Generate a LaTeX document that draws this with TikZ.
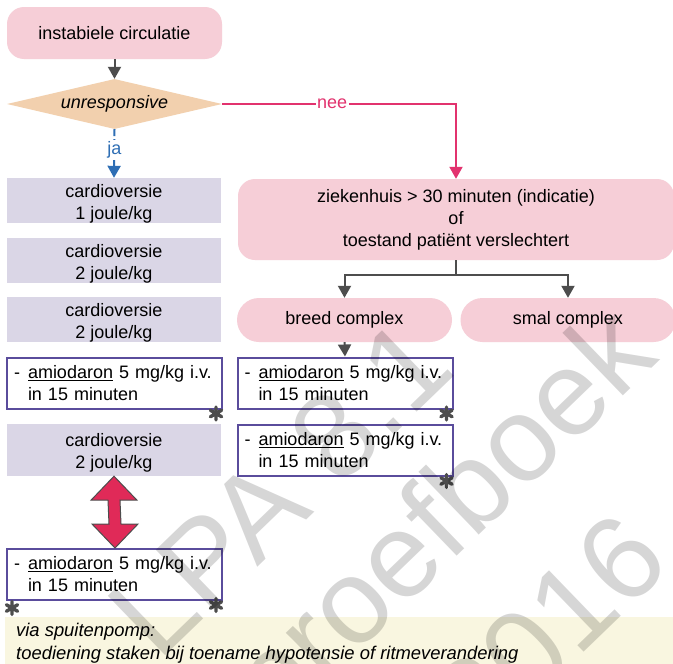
\documentclass[tikz,border=0pt]{standalone}
\usepackage{fontspec}
\setmainfont{Liberation Sans}
\usetikzlibrary{shapes.geometric,arrows.meta,calc}
\definecolor{boxpink}{RGB}{246,206,215}
\definecolor{diapeach}{RGB}{242,208,174}
\definecolor{lav}{RGB}{218,214,230}
\definecolor{amioborder}{RGB}{90,76,156}
\definecolor{darkgr}{RGB}{77,77,77}
\definecolor{jablue}{RGB}{46,110,180}
\definecolor{neepink}{RGB}{226,50,110}
\definecolor{dblred}{RGB}{224,42,88}
\definecolor{footyel}{RGB}{249,246,224}
\newcommand\myul[1]{\setbox0\hbox{#1}\rlap{\rule[-2.3pt]{\wd0}{1.1pt}}\box0\relax}
\newcommand\amiotxt{\makebox[14pt][l]{-}\myul{amiodaron} 5 mg/kg i.v.\\\hspace*{14pt}in 15 minuten}
\newcommand\topstrut{\rule{0pt}{19pt}}
\begin{document}
\begin{tikzpicture}[x=1pt,y=-1pt,
  txt/.style={font=\fontsize{18}{22}\selectfont, text=black},
  pinkbox/.style={txt, fill=boxpink, rounded corners=17pt, align=center, inner sep=0pt},
  pill/.style={txt, fill=boxpink, rounded corners=22pt, inner sep=0pt, minimum width=215pt, minimum height=44pt},
  lavbox/.style={txt, fill=lav, align=center, inner sep=0pt, minimum width=214pt, minimum height=45pt},
  amiobox/.style={txt, draw=amioborder, line width=2pt, fill=white, align=left, text width=201pt, inner xsep=7pt, inner ysep=0pt, minimum height=51pt},
  dia/.style={diamond, fill=diapeach, aspect=4.3, inner sep=0pt, minimum width=215pt, minimum height=50pt, font=\fontsize{18}{22}\selectfont\itshape},
  grayarr/.style={draw=darkgr, line width=2pt, -{Triangle[length=12pt,width=13pt]}},
  grayline/.style={draw=darkgr, line width=2pt},
  lbl/.style={font=\fontsize{18}{22}\selectfont, fill=white, inner sep=1.5pt},
  astline/.style={draw=darkgr, line width=3.4pt, line cap=round},
  astpic/.pic={\draw[astline] (0,-6.5) -- (0,6.5) (-5.6,-3.25) -- (5.6,3.25) (-5.6,3.25) -- (5.6,-3.25);},
  wmtext/.style={font=\fontsize{120}{147}\selectfont, text=black, text opacity=0.16, rotate=44, inner sep=0pt}
]
\useasboundingbox (0,0) rectangle (673,664);
\clip (0,0) rectangle (673,664);
\fill[white] (0,0) rectangle (673,664);

% footnote band
\fill[footyel] (5,617) rectangle (673,664);

% top flow
\node[pinkbox, minimum width=215pt, minimum height=52pt] (top) at (114.5,33) {instabiele circulatie};
\node[dia] (dia) at (114.5,104) {unresponsive};

% left column
\node[lavbox] (c1) at (114,200.5) {\topstrut cardioversie\\1 joule/kg};
\node[lavbox] (c2) at (114,260.5) {\topstrut cardioversie\\2 joule/kg};
\node[lavbox] (c3) at (114,319.5) {\topstrut cardioversie\\2 joule/kg};
\node[amiobox] (a1) at (114.5,383) {\amiotxt};
\node[lavbox, minimum height=52pt] (c4) at (114,450) {\topstrut cardioversie\\2 joule/kg};
\node[amiobox] (a3) at (114.5,574.5) {\amiotxt};

% right column
\node[pinkbox, minimum width=436pt, minimum height=81pt] (big) at (456,219.5) {ziekenhuis > 30 minuten (indicatie)\\of\\toestand patiënt verslechtert};
\node[pill] (breed) at (344.5,320) {breed complex};
\node[pill] (smal) at (568,320) {smal complex};
\node[amiobox] (b1) at (345,383) {\amiotxt};
\node[amiobox] (b2) at (345,450.5) {\amiotxt};

% connectors
\draw[grayarr] (top.south) -- (dia.north);
\draw[draw=jablue, line width=2pt, dash pattern=on 7pt off 3pt, -{Triangle[length=12pt,width=13pt]}] (dia.south) -- (c1.north)
  node[lbl, text=jablue, pos=0.43] (ja) {ja};
\draw[draw=neepink, line width=2pt, -{Triangle[length=12pt,width=13pt]}] (dia.east) -| (big.north)
  node[lbl, text=neepink, pos=0.235] (nee) {nee};
\coordinate (junc) at ($(big.south)+(0,15)$);
\draw[grayline] (big.south) -- (junc);
\draw[grayarr] (junc) -| (breed.north);
\draw[grayarr] (junc) -| (smal.north);
\draw[grayarr] (breed.south) -- (b1.north);

% double arrow between c4 and a3
\coordinate (dt) at (c4.south);
\coordinate (db) at ($(a3.north)+(0.5,0)$);
\draw[fill=dblred, draw=darkgr, line width=1pt, line join=miter]
  (dt) -- ($(dt)+(23,24)$) -- ($(dt)+(6,24)$) -- ($(db)+(6,-24)$) -- ($(db)+(23,-24)$) -- (db)
  -- ($(db)+(-23,-24)$) -- ($(db)+(-6,-24)$) -- ($(dt)+(-6,24)$) -- ($(dt)+(-23,24)$) -- cycle;

% asterisks
\pic at ($(a1.south east)+(-7,4)$) {astpic};
\pic at ($(a3.south east)+(-7,4)$) {astpic};
\pic at ($(b1.south east)+(-7,4)$) {astpic};
\pic at ($(b2.south east)+(-7,4)$) {astpic};
\pic at (12,608) {astpic};

% footnote text
\node[font=\fontsize{18.4}{22.5}\selectfont\itshape, anchor=north west, align=left, inner sep=0pt] (fn) at (16,623)
  {via spuitenpomp:\\toediening staken bij toename hypotensie of ritmeverandering};

% watermark
\node[wmtext] (wm1) at (280,488) {LPA 8.1};
\node[wmtext] (wm2) at (447,523) {proefboek};
\node[wmtext] (wm3) at (549,629) {2016};
\end{tikzpicture}
\end{document}
